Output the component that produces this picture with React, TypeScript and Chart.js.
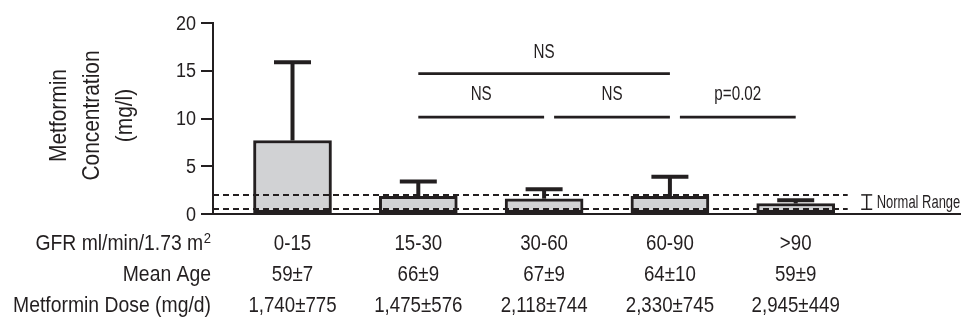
import React, { useEffect, useRef } from 'react';
import { Chart, registerables } from 'chart.js';

Chart.register(...registerables);

// ---- data ----
const gfrGroups = ['0-15', '15-30', '30-60', '60-90', '>90'];
const meanAge = ['59±7', '66±9', '67±9', '64±10', '59±9'];
const metforminDose = ['1,740±775', '1,475±576', '2,118±744', '2,330±745', '2,945±449'];
const rowHeaders = ['GFR ml/min/1.73 m', 'Mean Age', 'Metformin Dose (mg/d)'];
const rowHeaderSup = ['2', '', ''];
const meanConcentration = [7.7, 1.85, 1.6, 1.85, 1.1];
const upperError = [15.9, 3.4, 2.6, 3.9, 1.45];
const yTicks = [0, 5, 10, 15, 20];
const normalRange = [0.5, 2.0];
const normalRangeLabel = 'Normal Range';
const sigFrom = [1, 1, 2, 3];
const sigTo = [3, 2, 3, 4];
const sigLevel = [14.7, 10.15, 10.15, 10.15];
const sigLabel = ['NS', 'NS', 'NS', 'p=0.02'];
const sigLabelLevel = [17.05, 12.65, 12.65, 12.65];
const yTitleLines = ['Metformin', 'Concentration', '(mg/l)'];

// ---- styles ----
const FONT = "'Liberation Sans', Arial, sans-serif";
const INK = '#231f20';
const BAR_FILL = '#d1d2d4';
const BAR_W = 78;

const line = (ctx: CanvasRenderingContext2D, x1: number, y1: number, x2: number, y2: number) => {
  ctx.beginPath();
  ctx.moveTo(x1, y1);
  ctx.lineTo(x2, y2);
  ctx.stroke();
};

// condensed text: regular face squeezed horizontally
const drawText = (
  ctx: CanvasRenderingContext2D,
  text: string,
  x: number,
  y: number,
  size: number,
  align: CanvasTextAlign,
  sx: number,
  rotate = 0
) => {
  ctx.save();
  ctx.font = `${size}px ${FONT}`;
  ctx.fillStyle = INK;
  ctx.textBaseline = 'middle';
  ctx.textAlign = align;
  ctx.translate(x, y);
  if (rotate) ctx.rotate(rotate);
  ctx.scale(sx, 1);
  ctx.fillText(text, 0, 0);
  ctx.restore();
};

const textWidth = (ctx: CanvasRenderingContext2D, text: string, size: number, sx: number) => {
  ctx.save();
  ctx.font = `${size}px ${FONT}`;
  const w = ctx.measureText(text).width * sx;
  ctx.restore();
  return w;
};

const annotationPlugin = {
  id: 'annotations',
  afterDatasetsDraw(chart: any) {
    const { ctx, chartArea, scales } = chart;
    const x = scales.x;
    const y = scales.y;
    ctx.save();

    // normal range dashed lines
    const dashEnd = x.getPixelForValue(gfrGroups.length - 1) + BAR_W / 2 + 13;
    ctx.strokeStyle = INK;
    ctx.lineWidth = 2;
    ctx.setLineDash([6, 4]);
    normalRange.forEach((v) => {
      const py = Math.round(y.getPixelForValue(v));
      line(ctx, chartArea.left, py, dashEnd, py);
    });
    ctx.setLineDash([]);

    // normal range bracket + label
    const bx = dashEnd + 19;
    const bTop = y.getPixelForValue(normalRange[1]);
    const bBot = y.getPixelForValue(normalRange[0]);
    ctx.lineWidth = 1.5;
    line(ctx, bx, bTop, bx, bBot);
    line(ctx, bx - 5.5, bTop, bx + 5.5, bTop);
    line(ctx, bx - 5.5, bBot, bx + 5.5, bBot);
    drawText(ctx, normalRangeLabel, bx + 10, (bTop + bBot) / 2 + 1, 18, 'left', 0.72);

    // error bars (upper only)
    ctx.lineWidth = 4;
    ctx.lineCap = 'butt';
    meanConcentration.forEach((m, i) => {
      const px = x.getPixelForValue(i);
      const yb = y.getPixelForValue(m);
      const yt = y.getPixelForValue(upperError[i]);
      line(ctx, px, yb, px, yt);
      line(ctx, px - 18.5, yt, px + 18.5, yt);
    });

    // significance lines
    ctx.lineWidth = 2.7;
    sigFrom.forEach((f, k) => {
      const shared = sigTo.some((t, j) => j !== k && t === f && sigLevel[j] === sigLevel[k]);
      const x1 = x.getPixelForValue(f) + (shared ? 10 : 0);
      const x2 = x.getPixelForValue(sigTo[k]);
      const py = y.getPixelForValue(sigLevel[k]);
      line(ctx, x1, py, x2, py);
      drawText(ctx, sigLabel[k], (x1 + x2) / 2, y.getPixelForValue(sigLabelLevel[k]) + 1, 20, 'center', 0.76);
    });

    ctx.restore();
  },
  afterDraw(chart: any) {
    const { ctx, chartArea, scales } = chart;
    const x = scales.x;
    const y = scales.y;

    // y tick labels
    yTicks.forEach((v) => {
      drawText(ctx, String(v), chartArea.left - 17, y.getPixelForValue(v) + 1, 20, 'right', 0.9);
    });

    // y axis title (three rotated lines)
    const cy = (chartArea.top + chartArea.bottom) / 2 - 3;
    yTitleLines.forEach((t, k) => {
      drawText(ctx, t, 59 + k * 33, cy, 24, 'center', 0.87, -Math.PI / 2);
    });

    // bottom table
    const rows = [gfrGroups, meanAge, metforminDose];
    const headerRight = chartArea.left - 2;
    rows.forEach((vals, r) => {
      const ry = chartArea.bottom + 30 + r * 31;
      vals.forEach((v, i) => drawText(ctx, v, x.getPixelForValue(i), ry, 22, 'center', 0.85));
      let right = headerRight;
      if (rowHeaderSup[r]) {
        drawText(ctx, rowHeaderSup[r], right, ry - 5, 15, 'right', 0.87);
        right -= textWidth(ctx, rowHeaderSup[r], 15, 0.87) + 0.5;
      }
      drawText(ctx, rowHeaders[r], right, ry, 22, 'right', 0.88);
    });
  },
};

export default function App() {
  const ref = useRef<HTMLCanvasElement>(null);

  useEffect(() => {
    const canvas = ref.current;
    if (!canvas) return;
    const chart = new Chart(canvas, {
      type: 'bar',
      data: {
        datasets: [
          {
            data: meanConcentration.map((v, i) => ({ x: i, y: v })),
            backgroundColor: BAR_FILL,
            borderColor: INK,
            borderWidth: 3,
            borderSkipped: false,
            barThickness: BAR_W,
            base: 0.15,
          } as any,
        ],
      },
      options: {
        animation: false,
        responsive: true,
        maintainAspectRatio: false,
        layout: { padding: { top: 23, bottom: 119, right: 14, left: 0 } },
        plugins: {
          legend: { display: false },
          tooltip: { enabled: false },
          title: { display: false },
        },
        scales: {
          x: {
            type: 'linear',
            offset: false,
            min: -0.632,
            max: 5.306,
            ticks: { display: false },
            grid: { display: false, drawTicks: false, offset: false },
            border: { display: true, color: INK, width: 2 },
          },
          y: {
            type: 'linear',
            min: yTicks[0],
            max: yTicks[yTicks.length - 1],
            afterBuildTicks: (scale: any) => {
              scale.ticks = yTicks.map((v) => ({ value: v }));
            },
            afterFit: (scale: any) => {
              scale.width = 213;
            },
            ticks: { display: false },
            grid: {
              drawOnChartArea: false,
              drawTicks: true,
              tickLength: 12,
              color: INK,
              lineWidth: 2,
            },
            border: { display: true, color: INK, width: 2 },
          },
        },
      },
      plugins: [annotationPlugin],
    });
    return () => chart.destroy();
  }, []);

  return (
    <div style={{ position: 'fixed', left: 0, top: 0, width: 974, height: 333, background: '#fff' }}>
      <canvas ref={ref} />
    </div>
  );
}
